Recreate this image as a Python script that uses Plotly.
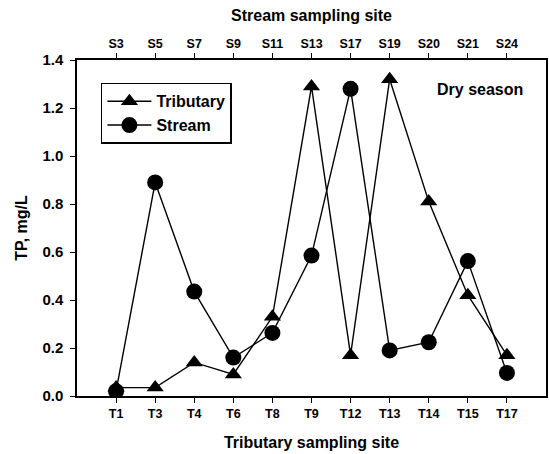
import plotly.graph_objects as go

trib_sites = ["T1", "T3", "T4", "T6", "T8", "T9", "T12", "T13", "T14", "T15", "T17"]
stream_sites = ["S3", "S5", "S7", "S9", "S11", "S13", "S17", "S19", "S20", "S21", "S24"]
tributary_tp = [0.035, 0.035, 0.14, 0.09, 0.33, 1.29, 0.17, 1.32, 0.81, 0.42, 0.17]
stream_tp = [0.02, 0.89, 0.435, 0.16, 0.263, 0.585, 1.28, 0.19, 0.224, 0.562, 0.096]
y_ticks = [0.0, 0.2, 0.4, 0.6, 0.8, 1.0, 1.2, 1.4]

FONT = "Liberation Sans, Arial, sans-serif"

fig = go.Figure()
fig.add_trace(go.Scatter(
    x=trib_sites, y=tributary_tp, name="Tributary", mode="lines+markers",
    line=dict(color="black", width=1.4),
    marker=dict(symbol="triangle-up", size=15, color="black"),
))
fig.add_trace(go.Scatter(
    x=trib_sites, y=stream_tp, name="Stream", mode="lines+markers",
    line=dict(color="black", width=1.4),
    marker=dict(symbol="circle", size=16, color="black"),
))

xtickfont = dict(family=FONT, size=12.5, color="black", weight="bold")
ytickfont = dict(family=FONT, size=15, color="black", weight="bold")
titlefont = dict(family=FONT, size=16, color="black", weight="bold")

fig.update_layout(
    width=549, height=454,
    margin=dict(l=77, r=1, t=60, b=58),
    paper_bgcolor="white", plot_bgcolor="white",
    showlegend=True,
    legend=dict(
        x=0.051, y=0.932, xanchor="left", yanchor="top",
        bgcolor="white", bordercolor="black", borderwidth=1.5,
        font=dict(family=FONT, size=16, color="black", weight="bold"),
        itemwidth=44,
    ),
    xaxis=dict(
        type="category", categoryorder="array", categoryarray=trib_sites,
        range=[-1, 11], showline=True, linecolor="black", linewidth=1.5,
        ticks="outside", ticklen=5, tickcolor="black", tickwidth=1.2,
        tickfont=xtickfont, showgrid=False, zeroline=False,
        title=dict(text="Tributary sampling site", font=titlefont, standoff=17),
    ),
    xaxis2=dict(
        overlaying="x", side="top", range=[-1, 11],
        tickvals=list(range(len(stream_sites))), ticktext=stream_sites,
        showline=True, linecolor="black", linewidth=1.5,
        ticks="outside", ticklen=5, tickcolor="black", tickwidth=1.2,
        tickfont=xtickfont, showgrid=False, zeroline=False,
        title=dict(text="Stream sampling site", font=titlefont, standoff=12),
    ),
    yaxis=dict(
        range=[0, 1.4], tickvals=y_ticks, ticktext=[f"{v:.1f}" for v in y_ticks],
        showline=True, mirror=True, linecolor="black", linewidth=1.5,
        ticks="outside", ticklen=5, tickcolor="black", tickwidth=1.2,
        tickfont=ytickfont, showgrid=False, zeroline=False, ticklabelstandoff=4,
        title=dict(text="TP, mg/L", font=titlefont, standoff=11),
    ),
)
# invisible trace to activate top axis
fig.add_trace(go.Scatter(x=[0], y=[0], xaxis="x2", mode="markers",
                         marker=dict(opacity=0), showlegend=False, hoverinfo="skip"))

fig.add_annotation(
    x=0.86, y=0.911, xref="paper", yref="paper", text="Dry season", showarrow=False,
    xanchor="center", yanchor="middle",
    font=dict(family=FONT, size=16, color="black", weight="bold"),
)

fig.write_html("out.html")
